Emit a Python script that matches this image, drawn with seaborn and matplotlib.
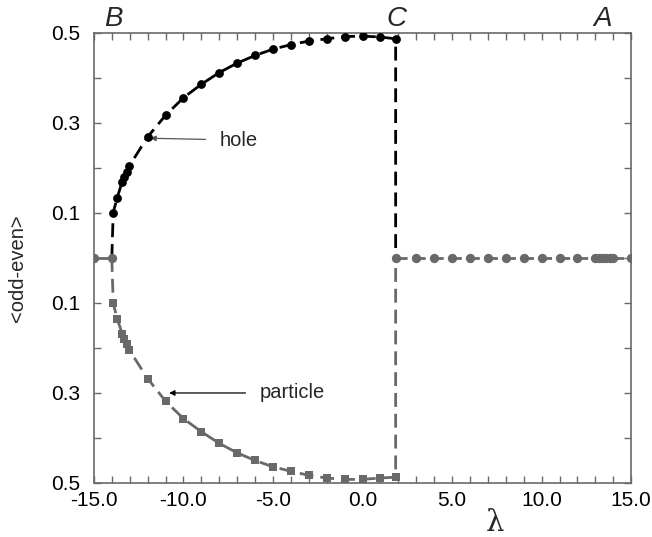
import matplotlib
matplotlib.use("Agg")
import matplotlib.pyplot as plt
import seaborn as sns
import pandas as pd
import numpy as np

# ---- data ----
hole_x = [-13.92, -13.70, -13.42, -13.31, -13.17, -13.03, -12.0, -11.0, -10.0, -9.0, -8.0,
          -7.0, -6.0, -5.0, -4.0, -3.0, -2.0, -1.0, 0.0, 1.0, 1.85]
hole_y = [0.101, 0.134, 0.169, 0.180, 0.191, 0.204, 0.269, 0.317, 0.356, 0.386, 0.412,
          0.433, 0.450, 0.464, 0.474, 0.482, 0.487, 0.492, 0.493, 0.491, 0.487]
particle_x = [-13.92, -13.70, -13.42, -13.31, -13.17, -13.03, -12.0, -11.0, -10.0, -9.0, -8.0,
              -7.0, -6.0, -5.0, -4.0, -3.0, -2.0, -1.0, 0.0, 1.0, 1.85]
particle_y = [-0.101, -0.135, -0.168, -0.180, -0.191, -0.204, -0.268, -0.318, -0.357, -0.386, -0.412,
              -0.433, -0.450, -0.464, -0.474, -0.483, -0.489, -0.492, -0.492, -0.489, -0.487]
zero_left_x = [-15.0, -14.0]
zero_right_x = [1.85, 3.0, 4.0, 5.0, 6.0, 7.0, 8.0, 9.0, 10.0, 11.0, 12.0,
                13.0, 13.2, 13.4, 13.6, 13.8, 14.0, 15.0]
xticklabels_major = [-15, -10, -5, 0, 5, 10, 15]
yticks_major = [0.5, 0.3, 0.1, -0.1, -0.3, -0.5]
region_labels = ["B", "C", "A"]
region_x = [-13.9, 1.9, 13.4]

sns.set_theme(style="white")
plt.rcParams['font.family'] = ['Liberation Sans', 'DejaVu Sans']

fig = plt.figure(figsize=(6.52, 5.37), dpi=100)
ax = fig.add_axes([0.144, 0.1006, 0.824, 0.838])

black = "#000000"
gray = "#696969"

# hole / particle curves: line from branch point at zero, then back to zero at C
hx = [-14.0] + hole_x + [hole_x[-1]]
hy = [0.0] + hole_y + [0.0]
px = [-14.0] + particle_x + [particle_x[-1]]
py = [0.0] + particle_y + [0.0]

sns.lineplot(x=px, y=py, ax=ax, sort=False, estimator=None, color=gray,
             lw=2, linestyle=(0, (5, 2.5)))
sns.lineplot(x=hx, y=hy, ax=ax, sort=False, estimator=None, color=black,
             lw=2, linestyle=(0, (5, 2.5)))
sns.lineplot(x=zero_left_x, y=[0.0] * len(zero_left_x), ax=ax, sort=False,
             estimator=None, color=gray, lw=2)
sns.lineplot(x=zero_right_x, y=[0.0] * len(zero_right_x), ax=ax, sort=False,
             estimator=None, color=gray, lw=2, linestyle=(0, (4, 2.5)))

sns.scatterplot(x=hole_x, y=hole_y, ax=ax, color=black, marker="o", s=40,
                edgecolor=black, linewidth=0, zorder=5)
sns.scatterplot(x=particle_x, y=particle_y, ax=ax, color=gray, marker="s", s=36,
                edgecolor=gray, linewidth=0, zorder=5)
sns.scatterplot(x=zero_left_x + zero_right_x, y=[0.0] * (len(zero_left_x) + len(zero_right_x)),
                ax=ax, color=gray, marker="o", s=45, edgecolor=gray, linewidth=0, zorder=5)

ax.set_xlim(-15, 15)
ax.set_ylim(-0.5, 0.5)

ax.set_xticks(np.arange(-15, 16, 1), minor=True)
ax.set_xticks(xticklabels_major)
ax.set_xticklabels([f"{v:.1f}" for v in xticklabels_major])
ax.set_yticks(np.arange(-0.5, 0.51, 0.1), minor=True)
ax.set_yticks(yticks_major)
ax.set_yticklabels([f"{abs(v):.1f}" for v in yticks_major])

ax.tick_params(which="both", direction="in", top=True, right=True, bottom=True, left=True,
               color=gray, width=1, labelsize=15, labelcolor="black")
ax.tick_params(which="major", length=5, pad=6)
ax.tick_params(axis="y", which="major", pad=10)
ax.tick_params(which="minor", length=5)

for s in ax.spines.values():
    s.set_color(gray)
    s.set_linewidth(1.2)

ax.set_ylabel("<odd-even>", fontsize=14.5)
ax.yaxis.set_label_coords(-0.125, 0.478)
ax.set_xlabel("λ", fontsize=21, family=["DejaVu Serif"])
ax.xaxis.set_label_coords(0.747, -0.058)

for lab, x in zip(region_labels, region_x):
    ax.text(x, 0.503, lab, fontsize=20, style="italic", ha="center", va="bottom")

ax.annotate("hole", xy=(-11.85, 0.266), xytext=(-7.96, 0.262), fontsize=14.5,
            va="center", ha="left",
            arrowprops=dict(arrowstyle="-|>", color="#555555", lw=0.9,
                            shrinkA=8, shrinkB=0, mutation_scale=8))
ax.annotate("particle", xy=(-10.8, -0.30), xytext=(-5.73, -0.30), fontsize=14.5,
            va="center", ha="left",
            arrowprops=dict(arrowstyle="-|>", color="black", lw=0.9,
                            shrinkA=8, shrinkB=0, mutation_scale=8))

fig.savefig("out.png", dpi=100)
